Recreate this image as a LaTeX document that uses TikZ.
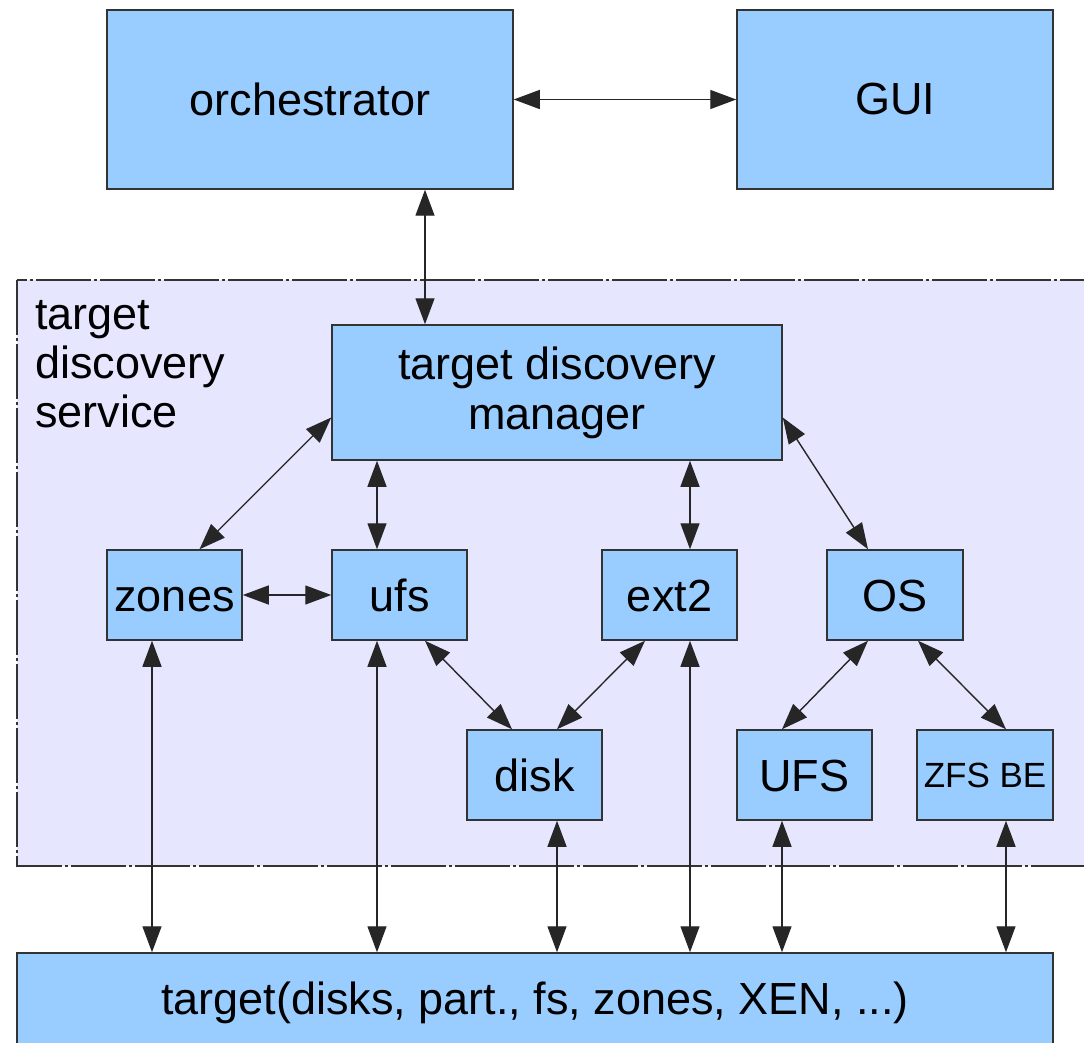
\documentclass[tikz,border=0pt]{standalone}
\usepackage{fontspec}
\setmainfont{Liberation Sans}
\usetikzlibrary{arrows.meta}
\definecolor{boxblue}{HTML}{99CCFF}
\definecolor{svcfill}{HTML}{E6E6FF}
\definecolor{edgegray}{HTML}{333333}
\begin{document}
\begin{tikzpicture}[x=1pt,y=-1pt,
  box/.style={draw=edgegray, line width=1.5pt, fill=boxblue, inner sep=0pt,
    font=\fontsize{45}{50}\selectfont, align=center},
  oneline/.style={box, text height=38pt, text depth=6pt},
  smallbox/.style={box, font=\fontsize{35}{40}\selectfont},
  svcbox/.style={draw=edgegray, line width=1.6pt, fill=svcfill,
    dash pattern=on 55pt off 3pt on 3pt off 3pt},
  link/.style={draw=black!85, line width=1.4pt,
    {Triangle[length=26pt,width=19pt]}-{Triangle[length=26pt,width=19pt]}}]
\path[use as bounding box, clip] (0,0) rectangle (1084,1043);
\fill[white] (0,0) rectangle (1084,1043);

% service container
\path[svcbox] (17,280) rectangle (1100,866);
\node[anchor=north west, inner sep=0pt, align=left,
  font=\fontsize{45}{49}\selectfont] (svclabel) at (35,300) {target\\discovery\\service};

% boxes
\node[box, minimum width=406pt, minimum height=179pt] (orch) at (310,99.5) {orchestrator};
\node[box, minimum width=316pt, minimum height=179pt] (gui) at (895,99.5) {GUI};
\node[box, minimum width=450pt, minimum height=135pt] (tdm) at (557,392.5) {target discovery\\manager};
\node[oneline, minimum width=135pt, minimum height=90pt] (zones) at (174.5,595) {zones};
\node[oneline, minimum width=135pt, minimum height=90pt] (ufs) at (399.5,595) {ufs};
\node[oneline, minimum width=135pt, minimum height=90pt] (ext2) at (669.5,595) {ext2};
\node[oneline, minimum width=136pt, minimum height=90pt] (os) at (895,595) {OS};
\node[oneline, minimum width=135pt, minimum height=90pt] (disk) at (534.5,775) {disk};
\node[oneline, minimum width=135pt, minimum height=90pt] (ufsbig) at (804.5,775) {UFS};
\node[smallbox, minimum width=136pt, minimum height=90pt] (zfs) at (985,775) {ZFS BE};
\node[box, minimum width=1036pt, minimum height=100pt] (target) at (535,1003) {target(disks, part., fs, zones, XEN, ...)};

% connectors
\draw[link] (orch.east) -- (gui.west);
\draw[link] ([xshift=115pt]orch.south) -- ([xshift=-132pt]tdm.north);
\draw[link] ([yshift=-25pt]tdm.west) -- ([xshift=25pt]zones.north);
\draw[link] ([xshift=-180pt]tdm.south) -- ([xshift=-22.5pt]ufs.north);
\draw[link] ([xshift=133pt]tdm.south) -- ([xshift=20.5pt]ext2.north);
\draw[link] ([yshift=-25pt]tdm.east) -- ([xshift=-27pt]os.north);
\draw[link] (zones.east) -- (ufs.west);
\draw[link] ([xshift=25.5pt]ufs.south) -- ([xshift=-22.5pt]disk.north);
\draw[link] ([xshift=-24.5pt]ext2.south) -- ([xshift=22.5pt]disk.north);
\draw[link] ([xshift=-27pt]os.south) -- ([xshift=-22.5pt]ufsbig.north);
\draw[link] ([xshift=23pt]os.south) -- ([xshift=21pt]zfs.north);

\coordinate (zb) at ([xshift=-22.5pt]zones.south);
\coordinate (ub) at ([xshift=-22.5pt]ufs.south);
\coordinate (db) at ([xshift=22.5pt]disk.south);
\coordinate (eb) at ([xshift=20.5pt]ext2.south);
\coordinate (Ub) at ([xshift=-22.5pt]ufsbig.south);
\coordinate (zfb) at ([xshift=21pt]zfs.south);
\draw[link] (zb) -- (zb |- target.north);
\draw[link] (ub) -- (ub |- target.north);
\draw[link] (db) -- (db |- target.north);
\draw[link] (eb) -- (eb |- target.north);
\draw[link] (Ub) -- (Ub |- target.north);
\draw[link] (zfb) -- (zfb |- target.north);
\end{tikzpicture}
\end{document}
